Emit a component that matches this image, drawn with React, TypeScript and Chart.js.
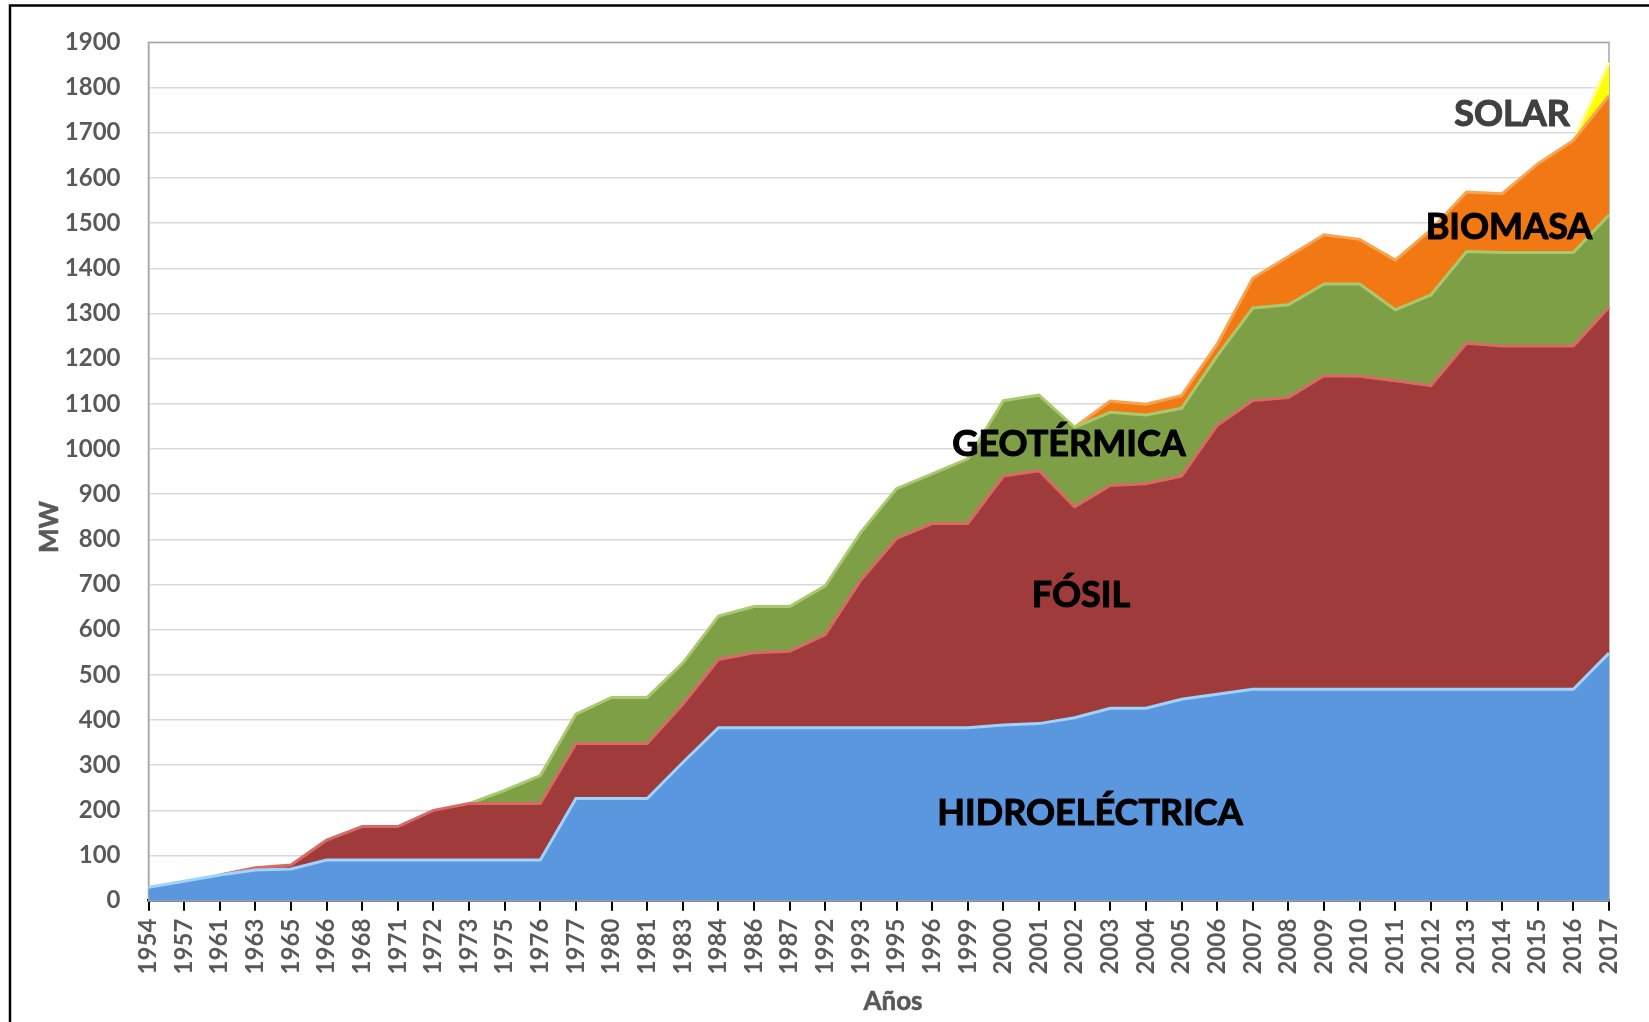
import React, { useEffect, useRef } from 'react';
import { Chart, registerables } from 'chart.js';

Chart.register(...registerables);

const years = [
  '1954', '1957', '1961', '1963', '1965', '1966', '1968', '1971', '1972', '1973',
  '1975', '1976', '1977', '1980', '1981', '1983', '1984', '1986', '1987', '1992',
  '1993', '1995', '1996', '1999', '2000', '2001', '2002', '2003', '2004', '2005',
  '2006', '2007', '2008', '2009', '2010', '2011', '2012', '2013', '2014', '2015',
  '2016', '2017',
];

const hidroelectrica = [
  30, 43, 57, 68, 70, 90, 90, 90, 90, 90,
  90, 90, 226, 226, 226, 306, 383, 383, 383, 383,
  383, 383, 383, 383, 389, 392, 405, 426, 426, 446,
  457, 468, 468, 468, 468, 468, 468, 468, 468, 468,
  468, 548,
];

const fosil = [
  0, 0, 0, 5, 9, 44, 74, 74, 110, 125,
  125, 125, 122, 122, 122, 129, 151, 166, 169, 206,
  327, 419, 452, 452, 551, 560, 467, 493, 497, 494,
  595, 639, 646, 694, 693, 683, 672, 766, 760, 760,
  760, 766,
];

const geotermica = [
  0, 0, 0, 0, 0, 0, 0, 0, 0, 0,
  29, 62, 65, 102, 102, 91, 96, 102, 99, 108,
  106, 110, 110, 143, 167, 167, 176, 162, 152, 150,
  154, 205, 205, 203, 204, 157, 201, 203, 207, 207,
  207, 204,
];

const biomasa = [
  0, 0, 0, 0, 0, 0, 0, 0, 0, 0,
  0, 0, 0, 0, 0, 0, 0, 0, 0, 0,
  0, 0, 0, 0, 0, 0, 0, 25, 24, 28,
  26, 66, 107, 109, 99, 110, 144, 132, 130, 196,
  248, 264,
];

const solar = [
  0, 0, 0, 0, 0, 0, 0, 0, 0, 0,
  0, 0, 0, 0, 0, 0, 0, 0, 0, 0,
  0, 0, 0, 0, 0, 0, 0, 0, 0, 0,
  0, 0, 0, 0, 0, 0, 0, 0, 0, 0,
  0, 73,
];

const seriesNames = ['HIDROELÉCTRICA', 'FÓSIL', 'GEOTÉRMICA', 'BIOMASA', 'SOLAR'];
const seriesValues = [hidroelectrica, fosil, geotermica, biomasa, solar];
const fillColors = ['#5B97DE', '#9F3B3B', '#7F9F47', '#F27814', '#FFFF00'];
const edgeColors = ['#9ED3FA', '#D86A66', '#A9C96E', '#F8A350', '#FFFF90'];

const yMin = 0;
const yMax = 1900;
const yStep = 100;

const seriesLabels = [
  { text: 'HIDROELÉCTRICA', x: 1090, y: 825, color: '#000000' },
  { text: 'FÓSIL', x: 1081, y: 607, color: '#000000' },
  { text: 'GEOTÉRMICA', x: 1069, y: 456, color: '#000000' },
  { text: 'BIOMASA', x: 1509, y: 239, color: '#000000' },
  { text: 'SOLAR', x: 1512, y: 126, color: '#404040' },
];

const FONT = 'Lato, "Open Sans", "DejaVu Sans", sans-serif';

const decorPlugin = {
  id: 'decor',
  beforeDraw(chart: any) {
    const ctx = chart.ctx;
    ctx.save();
    ctx.fillStyle = '#ffffff';
    ctx.fillRect(0, 0, chart.width, chart.height);
    ctx.strokeStyle = '#000000';
    ctx.lineWidth = 2.5;
    ctx.beginPath();
    ctx.moveTo(10, chart.height);
    ctx.lineTo(10, 5.5);
    ctx.lineTo(chart.width, 5.5);
    ctx.stroke();
    ctx.restore();
  },
  beforeDatasetsDraw(chart: any) {
    const { left, right, top, bottom } = chart.chartArea;
    const ctx = chart.ctx;
    ctx.save();
    ctx.strokeStyle = '#a6a6a6';
    ctx.lineWidth = 1.5;
    ctx.strokeRect(left, top, right - left, bottom - top);
    ctx.restore();
  },
  afterDraw(chart: any) {
    const ctx = chart.ctx;
    ctx.save();
    ctx.textAlign = 'center';
    ctx.textBaseline = 'alphabetic';
    ctx.font = `bold 36px ${FONT}`;
    ctx.lineWidth = 1.1;
    ctx.lineJoin = 'round';
    for (const l of seriesLabels) {
      ctx.fillStyle = l.color;
      ctx.strokeStyle = l.color;
      ctx.fillText(l.text, l.x, l.y);
      ctx.strokeText(l.text, l.x, l.y);
    }
    ctx.fillStyle = '#595959';
    ctx.strokeStyle = '#595959';
    ctx.lineWidth = 0.6;
    ctx.font = `bold 26px ${FONT}`;
    ctx.textBaseline = 'middle';
    ctx.fillText('Años', 893, 1002);
    ctx.strokeText('Años', 893, 1002);
    ctx.translate(50, 527);
    ctx.rotate(-Math.PI / 2);
    ctx.fillText('MW', 0, 0);
    ctx.strokeText('MW', 0, 0);
    ctx.restore();
  },
};

function zeroSegment(values: number[]) {
  return (ctx: any) =>
    values[ctx.p0DataIndex] === 0 && values[ctx.p1DataIndex] === 0 ? 'rgba(0,0,0,0)' : undefined;
}

export default function App() {
  const ref = useRef<HTMLCanvasElement | null>(null);

  useEffect(() => {
    if (!ref.current) return;
    const datasets = seriesValues.map((vals, i) => ({
      label: seriesNames[i],
      data: vals,
      backgroundColor: fillColors[i],
      borderColor: edgeColors[i],
      borderWidth: 3,
      pointRadius: 0,
      pointHoverRadius: 0,
      tension: 0,
      fill: i === 0 ? 'origin' : '-1',
      segment: { borderColor: zeroSegment(vals) },
    }));

    const chart = new Chart(ref.current, {
      type: 'line',
      data: { labels: years, datasets },
      options: {
        responsive: false,
        animation: false,
        layout: { padding: { left: 0, right: 40, top: 38.3, bottom: 0 } },
        plugins: {
          legend: { display: false },
          tooltip: { enabled: false },
          title: { display: false },
        },
        scales: {
          x: {
            type: 'category',
            offset: false,
            z: 1,
            grid: {
              display: true,
              drawOnChartArea: false,
              drawTicks: true,
              tickLength: 10,
              color: '#000000',
              lineWidth: 2,
            },
            border: { display: true, color: '#000000', width: 2.5 },
            ticks: {
              autoSkip: false,
              minRotation: 90,
              maxRotation: 90,
              padding: 8,
              color: '#595959',
              font: { family: FONT, size: 24, weight: 'bold' },
            },
            afterFit: (scale: any) => {
              scale.height = 121.3;
            },
          },
          y: {
            stacked: true,
            min: yMin,
            max: yMax,
            grid: { color: '#d9d9d9', lineWidth: 1.5, drawTicks: false },
            border: { display: true, color: '#a6a6a6', width: 1.5 },
            ticks: {
              stepSize: yStep,
              padding: 28,
              color: '#595959',
              font: { family: FONT, size: 24, weight: 'bold' },
              callback: (v: any) => String(v),
            },
            afterFit: (scale: any) => {
              scale.width = 148.5;
            },
          },
        },
      },
      plugins: [decorPlugin],
    });
    return () => chart.destroy();
  }, []);

  return (
    <div style={{ position: 'fixed', left: 0, top: 0, width: 1649, height: 1022, background: '#fff' }}>
      <canvas ref={ref} width={1649} height={1022} style={{ display: 'block', width: 1649, height: 1022 }} />
    </div>
  );
}
